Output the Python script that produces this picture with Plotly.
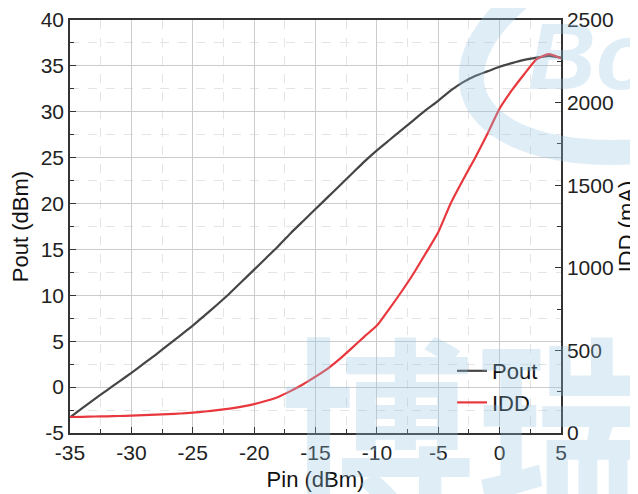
import math
import plotly.graph_objects as go

pin = [-35, -34, -33, -32, -31, -30, -29, -28, -27, -26, -25, -24, -23, -22, -21,
       -20, -19, -18, -17, -16, -15, -14, -13, -12, -11, -10, -9, -8, -7, -6,
       -5, -4, -3, -2, -1, 0, 1, 2, 3, 4, 5]
pout = [-3.3, -2.3, -1.3, -0.35, 0.6, 1.55, 2.55, 3.55, 4.6, 5.65, 6.7, 7.85, 9.0, 10.2, 11.5,
        12.8, 14.1, 15.4, 16.8, 18.1, 19.4, 20.7, 22.0, 23.3, 24.6, 25.8, 26.9, 28.0, 29.1, 30.2,
        31.2, 32.3, 33.2, 33.9, 34.4, 34.9, 35.3, 35.65, 35.9, 36.1, 35.9]
idd = [97, 98, 100, 101, 103, 105, 108, 111, 114, 118, 123, 130, 138, 148, 160,
       175, 195, 220, 255, 295, 341, 390, 450, 517, 585, 650, 750, 855, 967, 1090,
       1215, 1388, 1530, 1665, 1810, 1964, 2075, 2172, 2262, 2294, 2268]

x_ticks = [-35, -30, -25, -20, -15, -10, -5, 0, 5]
y_ticks = [-5, 0, 5, 10, 15, 20, 25, 30, 35, 40]
y2_ticks = [0, 500, 1000, 1500, 2000, 2500]

W, H = 638, 494
# page offset of 8px (body margin) compensated in the margins
ML, MR, MT, MB = 62, 85, 12, 69
P_LEFT, P_RIGHT, P_TOP, P_BOTTOM = 70, 561, 20, 433


def px(x):
    return (x - P_LEFT) / (P_RIGHT - P_LEFT)


def py(y):
    return (P_BOTTOM - y) / (P_BOTTOM - P_TOP)


FONT = "Liberation Sans, Arial, sans-serif"
WM = "rgba(150,195,225,0.30)"
AX = "#333333"
TXT = "#222222"

fig = go.Figure()
fig.add_trace(go.Scatter(x=pin, y=pout, name="Pout", mode="lines",
                         line=dict(color="#454545", width=2.2, shape="spline", smoothing=0.5)))
fig.add_trace(go.Scatter(x=pin, y=idd, name="IDD", mode="lines", yaxis="y2",
                         line=dict(color="#e8383d", width=2.2, shape="spline", smoothing=0.5)))

grid_major = "#cccccc"
grid_minor = "#e4e4e4"

common_ticks = dict(ticks="inside", ticklen=6, tickcolor=AX, tickwidth=1.2, automargin=False)

fig.update_layout(
    width=W, height=H,
    margin=dict(l=ML, r=MR, t=MT, b=MB, autoexpand=False),
    paper_bgcolor="white", plot_bgcolor="white",
    font=dict(family=FONT, size=21, color=TXT),
    showlegend=True,
    legend=dict(x=px(452), y=py(350), xanchor="left", yanchor="top",
                bgcolor="rgba(0,0,0,0)", font=dict(size=22, color="#111"),
                tracegroupgap=0),
    xaxis=dict(range=[-35, 5], tickvals=x_ticks, ticktext=[str(v) for v in x_ticks],
               showgrid=True, gridcolor=grid_major, gridwidth=1, zeroline=False,
               showline=True, linecolor=AX, linewidth=1.5, mirror=True, **common_ticks,
               tickfont=dict(size=21, color=TXT),
               minor=dict(dtick=2.5, tick0=-35, showgrid=True, gridcolor=grid_minor,
                          griddash="dash", ticks="inside", ticklen=4, tickcolor=AX),
               title=dict(text="Pin (dBm)", font=dict(size=22, color="#111"), standoff=9)),
    yaxis=dict(range=[-5, 40], tickvals=y_ticks, ticktext=[str(v) for v in y_ticks],
               showgrid=True, gridcolor=grid_major, gridwidth=1, zeroline=False,
               showline=True, linecolor=AX, linewidth=1.5, **common_ticks,
               tickfont=dict(size=21, color=TXT),
               minor=dict(dtick=2.5, tick0=-5, showgrid=True, gridcolor=grid_minor,
                          griddash="dash", ticks="inside", ticklen=4, tickcolor=AX),
               title=dict(text="Pout (dBm)", font=dict(size=22, color="#111"), standoff=11)),
    yaxis2=dict(range=[0, 2500], tickvals=y2_ticks, ticktext=[str(v) for v in y2_ticks],
                overlaying="y", side="right", showgrid=False, zeroline=False,
                showline=True, linecolor=AX, linewidth=1.5, **common_ticks,
                tickfont=dict(size=21, color=TXT),
                minor=dict(dtick=250, ticks="inside", ticklen=4, tickcolor=AX),
                title=dict(text="IDD (mA)", font=dict(size=22, color="#111"), standoff=5)),
)

# watermark (brand logo behind the chart): tilted ring, "Bo" and "博瑞"
cx, cy, ra, rb, phi = 700, 30, 235, 110, math.radians(15)
ux, uy = -math.cos(phi), math.sin(phi)
vx, vy = math.sin(phi), math.cos(phi)
pts = []
for k in range(73):
    t = 2 * math.pi * k / 72
    X = cx + ra * math.cos(t) * ux + rb * math.sin(t) * vx
    Y = cy + ra * math.cos(t) * uy + rb * math.sin(t) * vy
    pts.append(f"{px(X):.4f},{py(Y):.4f}")
fig.add_shape(type="path", xref="paper", yref="paper", path="M" + " L".join(pts) + " Z",
              line=dict(color=WM, width=25), layer="above")
fig.add_annotation(text="<b><i>Bo</i></b>", xref="paper", yref="paper",
                   x=px(590), y=py(56), xanchor="center", yanchor="middle", showarrow=False,
                   font=dict(size=94, color=WM, family=FONT))
fig.add_annotation(text="<b>博瑞</b>", xref="paper", yref="paper",
                   x=px(475), y=py(276), xanchor="center", yanchor="top", showarrow=False,
                   font=dict(size=195, color=WM, family="Noto Sans CJK SC"))

fig.write_html("out.html")
